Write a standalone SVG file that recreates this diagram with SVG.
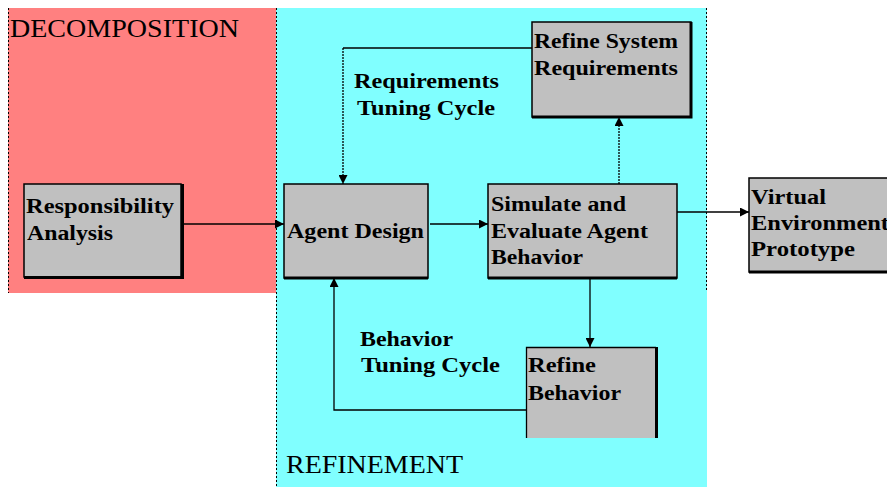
<svg xmlns="http://www.w3.org/2000/svg" width="887" height="487" viewBox="0 0 887 487">
<style>
.box{fill:#C0C0C0;stroke:#000;stroke-width:1.5}
.sh{stroke:#000;stroke-width:3;fill:none}
.t{font-family:"Liberation Serif","Times New Roman",serif;font-weight:bold;font-size:20px;fill:#000}
.h{font-family:"Liberation Serif","Times New Roman",serif;font-size:25px;fill:#000}
.c{stroke:#000;stroke-width:1.3;fill:none}
.d{stroke:#000;stroke-width:1.3;fill:none;stroke-dasharray:2,1}
.rb{stroke:#000;stroke-width:1;fill:none;stroke-dasharray:2,2}
</style>
<defs>
<marker id="ah" viewBox="0 0 10 10" refX="10" refY="5" markerWidth="9" markerHeight="9" markerUnits="userSpaceOnUse" orient="auto">
<path d="M0,0 L10,5 L0,10 Z" fill="#000"/>
</marker>
</defs>
<rect width="887" height="487" fill="#fff"/>
<g id="decomposition">
<rect x="8" y="8" width="268" height="285" fill="#FF8080"/>
<path class="rb" d="M8.5,8 V293"/>
<text class="h" x="10" y="37" textLength="229" lengthAdjust="spacingAndGlyphs">DECOMPOSITION</text>
</g>
<g id="refinement">
<rect x="276" y="8" width="431" height="479" fill="#80FFFF"/>
<path class="rb" d="M276.5,8 V487 M706.5,8 V292"/>
<text class="h" x="286" y="473" textLength="177" lengthAdjust="spacingAndGlyphs">REFINEMENT</text>
</g>
<g id="connectors">
<path class="c" d="M181,224 H284" marker-end="url(#ah)"/>
<path class="c" d="M430,224 H488" marker-end="url(#ah)"/>
<path class="c" d="M677,212 H749" marker-end="url(#ah)"/>
<path class="d" d="M619,184 V117" marker-end="url(#ah)"/>
<path class="c" d="M532,48 H343"/>
<path class="d" d="M343,48 V184" marker-end="url(#ah)"/>
<path class="c" d="M590,278 V347" marker-end="url(#ah)"/>
<path class="c" d="M526,410 H334 V278" marker-end="url(#ah)"/>
</g>
<g id="labels">
<text class="t" x="354" y="88" textLength="145" lengthAdjust="spacingAndGlyphs">Requirements</text>
<text class="t" x="357" y="115" textLength="138" lengthAdjust="spacingAndGlyphs">Tuning Cycle</text>
<text class="t" x="360" y="346" textLength="93" lengthAdjust="spacingAndGlyphs">Behavior</text>
<text class="t" x="361" y="372" textLength="139" lengthAdjust="spacingAndGlyphs">Tuning Cycle</text>
</g>
<g id="responsibility">
<rect class="box" x="24" y="184" width="157" height="93"/>
<path class="sh" d="M24,277.5 H182.5 V184"/>
<text class="t" x="26" y="213" textLength="148" lengthAdjust="spacingAndGlyphs">Responsibility</text>
<text class="t" x="27" y="240" textLength="86" lengthAdjust="spacingAndGlyphs">Analysis</text>
</g>
<g id="agent-design">
<rect class="box" x="284" y="184" width="144" height="94"/>
<path class="sh" d="M284,278 H428"/>
<text class="t" x="287" y="238" textLength="137" lengthAdjust="spacingAndGlyphs">Agent Design</text>
</g>
<g id="simulate">
<rect class="box" x="488" y="184" width="189" height="94"/>
<path class="sh" d="M488,278 H677"/>
<text class="t" x="491" y="211" textLength="135" lengthAdjust="spacingAndGlyphs">Simulate and</text>
<text class="t" x="491" y="238" textLength="157" lengthAdjust="spacingAndGlyphs">Evaluate Agent</text>
<text class="t" x="491" y="264" textLength="92" lengthAdjust="spacingAndGlyphs">Behavior</text>
</g>
<g id="refine-system">
<rect class="box" x="532" y="22" width="159" height="95"/>
<path class="sh" d="M532,117 H691 V22"/>
<text class="t" x="534" y="48" textLength="144" lengthAdjust="spacingAndGlyphs">Refine System</text>
<text class="t" x="534" y="75" textLength="144" lengthAdjust="spacingAndGlyphs">Requirements</text>
</g>
<g id="refine-behavior">
<rect x="526" y="347" width="131" height="91" fill="#C0C0C0"/>
<path class="c" d="M526.5,438 V347.5 H656"/>
<path class="sh" d="M656.5,347 V438"/>
<text class="t" x="528" y="372" textLength="68" lengthAdjust="spacingAndGlyphs">Refine</text>
<text class="t" x="528" y="400" textLength="93" lengthAdjust="spacingAndGlyphs">Behavior</text>
</g>
<g id="virtual-env">
<rect class="box" x="749" y="178" width="145" height="94"/>
<path class="sh" d="M749,272 H890"/>
<text class="t" x="751" y="204" textLength="75" lengthAdjust="spacingAndGlyphs">Virtual</text>
<text class="t" x="751" y="230" textLength="138" lengthAdjust="spacingAndGlyphs">Environment</text>
<text class="t" x="751" y="256" textLength="104" lengthAdjust="spacingAndGlyphs">Prototype</text>
</g>
</svg>
